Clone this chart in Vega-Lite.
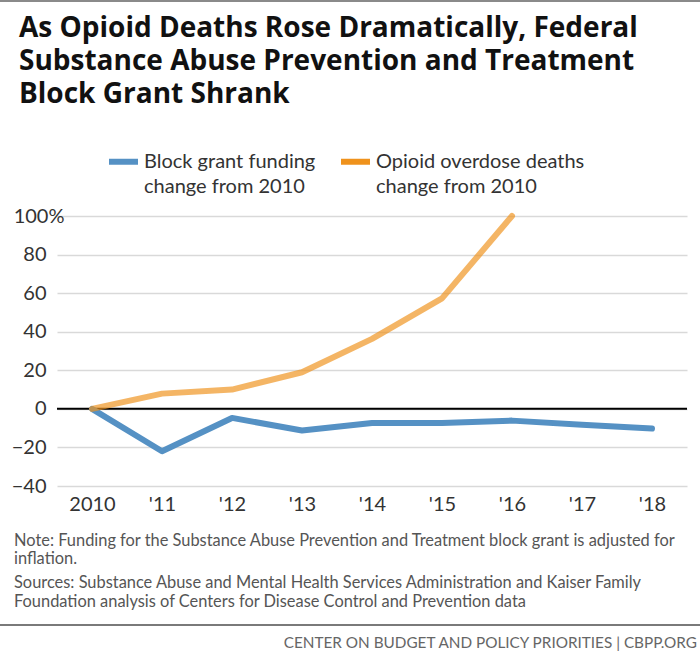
{
  "$schema": "https://vega.github.io/schema/vega-lite/v6.json",
  "autosize": {"type": "none"},
  "width": 630,
  "height": 270,
  "padding": {"left": 57, "top": 216, "right": 13, "bottom": 178},
  "background": "white",
  "title": {
    "text": ["As Opioid Deaths Rose Dramatically, Federal", "Substance Abuse Prevention and Treatment", "Block Grant Shrank"],
    "anchor": "start",
    "font": "Open Sans",
    "fontSize": 28,
    "fontWeight": "bold",
    "color": "#111111",
    "lineHeight": 33,
    "baseline": "bottom",
    "dx": 20,
    "dy": 137,
    "offset": 0
  },
  "config": {
    "view": {"stroke": null},
    "font": "Lato"
  },
  "encoding": {
    "y": {
      "field": "value",
      "type": "quantitative",
      "scale": {"domain": [-40, 100], "nice": false},
      "axis": {
        "title": null,
        "domain": false,
        "ticks": false,
        "values": [-40, -20, 0, 20, 40, 60, 80, 100],
        "gridColor": "#d9d9d9",
        "gridWidth": 1.5,
        "labelFont": "Lato",
        "labelFontSize": 20,
        "labelColor": "#333333",
        "labelPadding": {"condition": {"test": "datum.value == 100", "value": -7}, "value": 11},
        "labelOverlap": false,
        "labelExpr": "datum.value == 100 ? '100%' : datum.label"
      }
    }
  },
  "layer": [
    {
      "data": {"values": [{"value": 0}]},
      "mark": {"type": "rule", "color": "#000000", "strokeWidth": 2}
    },
    {
      "data": {
        "values": [
          {"year": 2010, "series": "Block grant funding|change from 2010", "value": 0},
          {"year": 2011, "series": "Block grant funding|change from 2010", "value": -22},
          {"year": 2012, "series": "Block grant funding|change from 2010", "value": -4.7},
          {"year": 2013, "series": "Block grant funding|change from 2010", "value": -11.2},
          {"year": 2014, "series": "Block grant funding|change from 2010", "value": -7.3},
          {"year": 2015, "series": "Block grant funding|change from 2010", "value": -7.3},
          {"year": 2016, "series": "Block grant funding|change from 2010", "value": -6.1},
          {"year": 2017, "series": "Block grant funding|change from 2010", "value": -8.2},
          {"year": 2018, "series": "Block grant funding|change from 2010", "value": -10.2},
          {"year": 2010, "series": "Opioid overdose deaths|change from 2010", "value": 0},
          {"year": 2011, "series": "Opioid overdose deaths|change from 2010", "value": 7.9},
          {"year": 2012, "series": "Opioid overdose deaths|change from 2010", "value": 10},
          {"year": 2013, "series": "Opioid overdose deaths|change from 2010", "value": 19},
          {"year": 2014, "series": "Opioid overdose deaths|change from 2010", "value": 36.3},
          {"year": 2015, "series": "Opioid overdose deaths|change from 2010", "value": 57.3},
          {"year": 2016, "series": "Opioid overdose deaths|change from 2010", "value": 100}
        ]
      },
      "mark": {"type": "line", "strokeWidth": 6, "strokeCap": "round", "strokeJoin": "round"},
      "encoding": {
        "x": {
          "field": "year",
          "type": "ordinal",
          "scale": {"type": "point", "padding": 0.5},
          "axis": {
            "title": null,
            "domain": false,
            "ticks": false,
            "grid": false,
            "labelAngle": 0,
            "labelFont": "Lato",
            "labelFontSize": 20,
            "labelColor": "#333333",
            "labelPadding": 8,
            "labelExpr": "datum.value == 2010 ? '2010' : '\\'' + substring(datum.label, 2, 4)"
          }
        },
        "color": {
          "field": "series",
          "type": "nominal",
          "scale": {
            "domain": ["Block grant funding|change from 2010", "Opioid overdose deaths|change from 2010"],
            "range": ["#5591c4", "#ef921c"]
          },
          "legend": {
            "orient": "none",
            "legendX": 49,
            "legendY": -72,
            "direction": "horizontal",
            "title": null,
            "symbolType": "stroke",
            "symbolStrokeWidth": 6,
            "symbolSize": 841,
            "labelFont": "Lato",
            "labelFontSize": 20,
            "labelColor": "#333333",
            "labelLimit": 0,
            "labelOffset": 3,
            "columnPadding": 13,
            "labelExpr": "split(datum.label, '|')",
            "encode": {"labels": {"update": {"lineHeight": {"value": 25}}}}
          }
        },
        "strokeOpacity": {
          "condition": {"test": "datum.series == 'Opioid overdose deaths|change from 2010'", "value": 0.68},
          "value": 1
        }
      }
    },
    {
      "data": {"values": [{}]},
      "mark": {
        "type": "text",
        "text": ["Note: Funding for the Substance Abuse Prevention and Treatment block grant is adjusted for", "inflation."],
        "align": "left",
        "baseline": "alphabetic",
        "font": "Lato",
        "fontSize": 16.4,
        "lineHeight": 18,
        "color": "#555555"
      },
      "encoding": {"x": {"value": -43}, "y": {"value": 330}}
    },
    {
      "data": {"values": [{}]},
      "mark": {
        "type": "text",
        "text": ["Sources: Substance Abuse and Mental Health Services Administration and Kaiser Family", "Foundation analysis of Centers for Disease Control and Prevention data"],
        "align": "left",
        "baseline": "alphabetic",
        "font": "Lato",
        "fontSize": 16.4,
        "lineHeight": 18.5,
        "color": "#555555"
      },
      "encoding": {"x": {"value": -43}, "y": {"value": 372}}
    },
    {
      "data": {"values": [{}]},
      "mark": {"type": "rule", "color": "#7a7a7a", "strokeWidth": 2},
      "encoding": {"x": {"value": -57}, "x2": {"value": 643}, "y": {"value": 409}}
    },
    {
      "data": {"values": [{}]},
      "mark": {"type": "rule", "color": "#8a8a8a", "strokeWidth": 2},
      "encoding": {"x": {"value": -57}, "x2": {"value": 643}, "y": {"value": -215}}
    },
    {
      "data": {"values": [{}]},
      "mark": {
        "type": "text",
        "text": "CENTER ON BUDGET AND POLICY PRIORITIES | CBPP.ORG",
        "align": "right",
        "baseline": "alphabetic",
        "font": "Lato",
        "fontSize": 15.3,
        "color": "#666666"
      },
      "encoding": {"x": {"value": 640}, "y": {"value": 432}}
    }
  ]
}
